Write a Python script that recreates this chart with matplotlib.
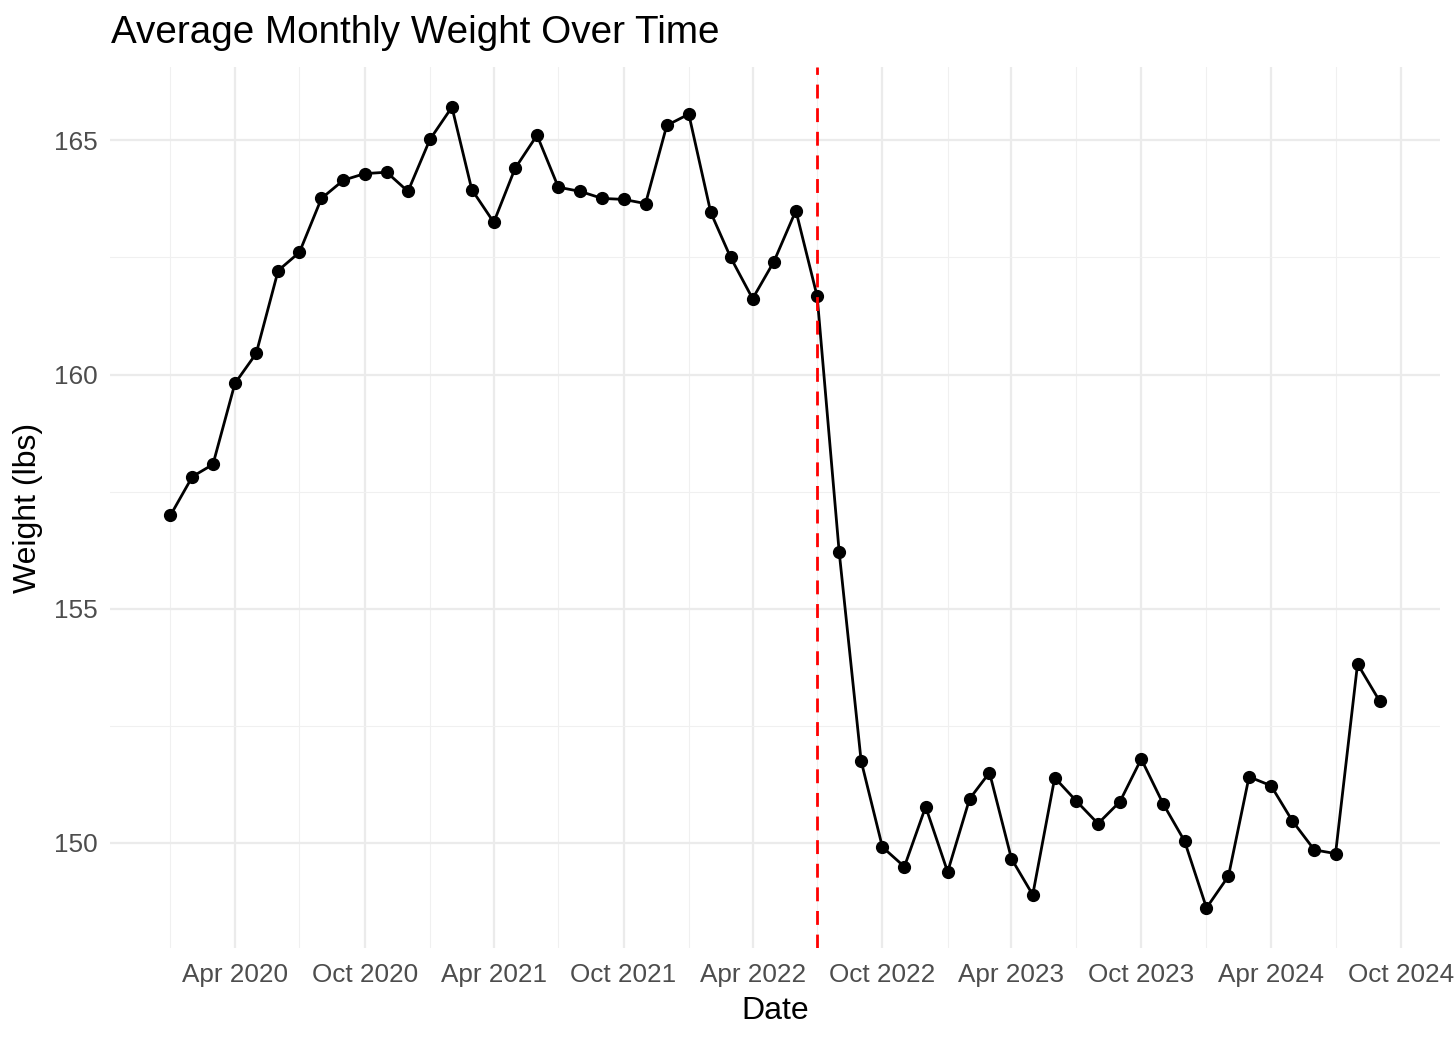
import matplotlib
matplotlib.use("Agg")
import matplotlib.pyplot as plt
import matplotlib.dates as mdates
import numpy as np
import pandas as pd

plt.rcParams['font.family'] = ['Liberation Sans', 'DejaVu Sans']

dates = pd.date_range("2020-01-01", "2024-09-01", freq="MS")
weights = [
    156.99, 157.82, 158.08, 159.81, 160.45, 162.22, 162.61, 163.76, 164.15, 164.29, 164.32, 163.91,
    165.02, 165.71, 163.95, 163.25, 164.40, 165.11, 164.00, 163.91, 163.76, 163.74, 163.65, 165.32,
    165.56, 163.46, 162.50, 161.62, 162.41, 163.50, 161.67, 156.22, 151.75, 149.91, 149.49, 150.77,
    149.38, 150.94, 151.50, 149.66, 148.89, 151.39, 150.90, 150.41, 150.88, 151.79, 150.83, 150.04,
    148.61, 149.29, 151.41, 151.22, 150.47, 149.85, 149.77, 153.82, 153.03,
]
event_date = pd.Timestamp("2022-07-01")

title = "Average Monthly Weight Over Time"
xlabel = "Date"
ylabel = "Weight (lbs)"

fig = plt.figure(figsize=(14.56, 10.4), dpi=100)
ax = fig.add_axes([0.0755, 0.0885, 0.9135, 0.847])

ax.plot(dates, weights, color="black", lw=2.0, marker="o", ms=8.5, zorder=3)
ax.axvline(event_date, color="red", lw=2.0, ls=(0, (5, 3.5)), zorder=4)

# limits with ggplot-like 5% expansion
xnum = mdates.date2num(dates)
xr = xnum.max() - xnum.min()
ax.set_xlim(xnum.min() - 0.05 * xr, xnum.max() + 0.05 * xr)
yr = max(weights) - min(weights)
ax.set_ylim(min(weights) - 0.05 * yr, max(weights) + 0.05 * yr)

ax.xaxis.set_major_locator(mdates.MonthLocator(bymonth=[4, 10]))
ax.xaxis.set_minor_locator(mdates.MonthLocator(bymonth=[1, 7]))
ax.xaxis.set_major_formatter(mdates.DateFormatter("%b %Y"))
ax.set_yticks([150, 155, 160, 165])
ax.set_yticks([152.5, 157.5, 162.5], minor=True)

ax.grid(which="major", color="#EBEBEB", lw=1.6)
ax.grid(which="minor", color="#F0F0F0", lw=0.8)
ax.set_axisbelow(True)
for s in ax.spines.values():
    s.set_visible(False)
ax.tick_params(which="both", length=0, labelsize=18.8, labelcolor="#4D4D4D")
ax.tick_params(axis="x", pad=11)
ax.tick_params(axis="y", pad=9)

ax.set_xlabel(xlabel, fontsize=23, labelpad=6)
ax.set_ylabel(ylabel, fontsize=23, labelpad=8)
fig.text(0.0762, 0.968, title, fontsize=27.8, ha="left", va="center")

fig.savefig("out.png", dpi=100)
